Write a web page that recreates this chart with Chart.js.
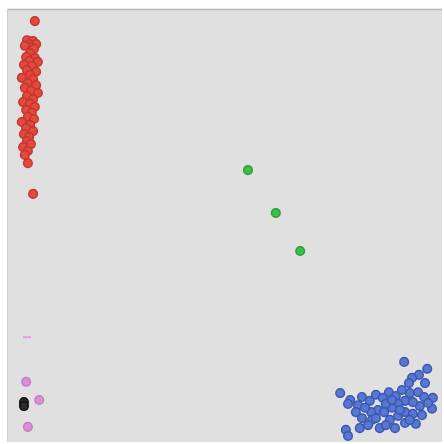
<!DOCTYPE html>
<html>
<head>
<meta charset="utf-8">
<script src="https://cdn.jsdelivr.net/npm/chart.js@4/dist/chart.umd.min.js"></script>
<style>
  html, body { margin: 0; padding: 0; background: #ffffff; }
  #wrap { width: 444px; height: 444px; }
</style>
</head>
<body>
<div id="wrap"><canvas id="c" width="444" height="444"></canvas></div>
<script>
// Cluster A (red): tall narrow column near the left edge
const redX = [6.4, 4.6, 6.0, 5.1, 6.7, 5.5, 4.1, 6.2, 5.3, 4.4, 6.4, 5.1, 7.1, 3.9, 5.7, 4.6, 6.7, 5.3, 3.4, 6.0, 4.8, 6.7, 4.1, 5.5, 7.1, 4.6, 6.0, 3.7, 5.3, 6.4, 4.4, 5.7, 4.8, 6.2, 3.4, 5.3, 4.4, 6.0, 3.9, 5.1, 4.6, 5.5, 3.7, 4.8, 4.1, 4.8, 6.0];
const redY = [97.2, 92.8, 92.6, 91.9, 91.9, 91.2, 91.5, 90.8, 89.8, 88.9, 88.7, 88.0, 87.8, 87.1, 86.8, 85.9, 85.5, 84.8, 84.1, 83.8, 82.9, 82.4, 81.8, 81.1, 80.6, 79.9, 79.2, 78.5, 78.1, 77.4, 76.7, 76.0, 75.1, 74.6, 73.9, 73.2, 72.5, 71.8, 71.1, 70.4, 69.5, 68.8, 68.1, 67.2, 66.3, 64.4, 57.3];

// Cluster B (green): three points on a diagonal
const greenX = [55.4, 61.8, 67.4];
const greenY = [62.8, 52.9, 44.1];

// Cluster C (pink) and D (black): bottom-left group
const pinkX = [4.4, 7.4, 4.8];
const pinkY = [13.9, 9.7, 3.5];
const pinkDashX = [4.6];
const pinkDashY = [24.2];
const blackX = [3.9, 3.9];
const blackY = [9.2, 8.3];

// Cluster E (blue): dense group in the bottom-right corner
const blueX = [91.3, 96.6, 94.7, 93.1, 92.4, 96.1, 76.6, 78.9, 80.7, 81.6, 83.4, 84.8, 86.4, 87.8, 89.4, 90.8, 92.6, 94.5, 95.9, 97.9, 97.7, 94.9, 93.3, 91.5, 89.9, 88.5, 87.1, 85.3, 83.7, 82.3, 80.2, 78.4, 81.6, 83.9, 85.7, 88.0, 89.9, 91.5, 93.3, 95.4, 96.8, 94.0, 91.5, 89.2, 87.1, 84.8, 83.0, 77.9, 78.4, 81.1, 90.3, 88.5, 86.7, 92.6];
const blueY = [18.5, 16.9, 15.5, 14.8, 13.6, 13.6, 11.3, 9.7, 8.5, 10.4, 9.5, 10.9, 10.2, 11.5, 10.6, 12.0, 11.3, 11.5, 10.4, 10.2, 7.7, 8.3, 9.2, 9.5, 8.8, 7.9, 8.8, 7.4, 6.9, 7.9, 6.9, 8.8, 5.5, 5.1, 3.2, 5.1, 6.0, 6.9, 6.5, 6.2, 9.0, 4.2, 4.4, 3.2, 3.9, 5.5, 3.9, 2.8, 1.4, 3.2, 7.4, 9.7, 6.9, 5.1];

function pts(xs, ys) {
  return xs.map((x, i) => ({ x: x, y: ys[i] }));
}

// Light grey plotting panel with a thin rule along its top edge
const panel = {
  id: 'panel',
  beforeDraw(chart) {
    const { ctx, chartArea: a } = chart;
    ctx.save();
    ctx.fillStyle = '#e0e0e0';
    ctx.fillRect(a.left, a.top, a.right - a.left, a.bottom - a.top);
    ctx.strokeStyle = '#b5b5b5';
    ctx.lineWidth = 1.5;
    ctx.beginPath();
    ctx.moveTo(a.left, a.top + 0.5);
    ctx.lineTo(a.right, a.top + 0.5);
    ctx.stroke();
    ctx.strokeStyle = '#d0d0d0';
    ctx.lineWidth = 1;
    ctx.beginPath();
    ctx.moveTo(a.left + 0.5, a.top);
    ctx.lineTo(a.left + 0.5, a.bottom);
    ctx.stroke();
    ctx.restore();
  }
};

const dot = { pointRadius: 4.3, pointBorderWidth: 1.5, pointHoverRadius: 4.3 };

new Chart(document.getElementById('c'), {
  type: 'scatter',
  data: {
    datasets: [
      Object.assign({ label: 'A', data: pts(redX, redY), backgroundColor: '#e24a3e', borderColor: '#c4352d' }, dot),
      Object.assign({ label: 'B', data: pts(greenX, greenY), backgroundColor: '#3cbf45', borderColor: '#2a9e33' }, dot),
      Object.assign({ label: 'C', data: pts(pinkX, pinkY), backgroundColor: '#dc8fd8', borderColor: '#c77ac4' }, dot),
      { label: 'C2', data: pts(pinkDashX, pinkDashY), pointStyle: 'line', pointRadius: 4, borderWidth: 2, borderColor: '#e2a0da', backgroundColor: '#e2a0da' },
      Object.assign({ label: 'D', data: pts(blackX, blackY), backgroundColor: '#2b2b2b', borderColor: '#111111' }, dot),
      Object.assign({ label: 'E', data: pts(blueX, blueY), backgroundColor: '#5878d0', borderColor: '#3a57b3' }, dot)
    ]
  },
  options: {
    responsive: false,
    animation: false,
    layout: { autoPadding: false, padding: { left: 7, top: 9, right: 2, bottom: 2 } },
    scales: {
      x: { type: 'linear', min: 0, max: 100, display: false },
      y: { type: 'linear', min: 0, max: 100, display: false }
    },
    plugins: {
      legend: { display: false },
      tooltip: { enabled: false }
    }
  },
  plugins: [panel]
});
</script>
</body>
</html>
